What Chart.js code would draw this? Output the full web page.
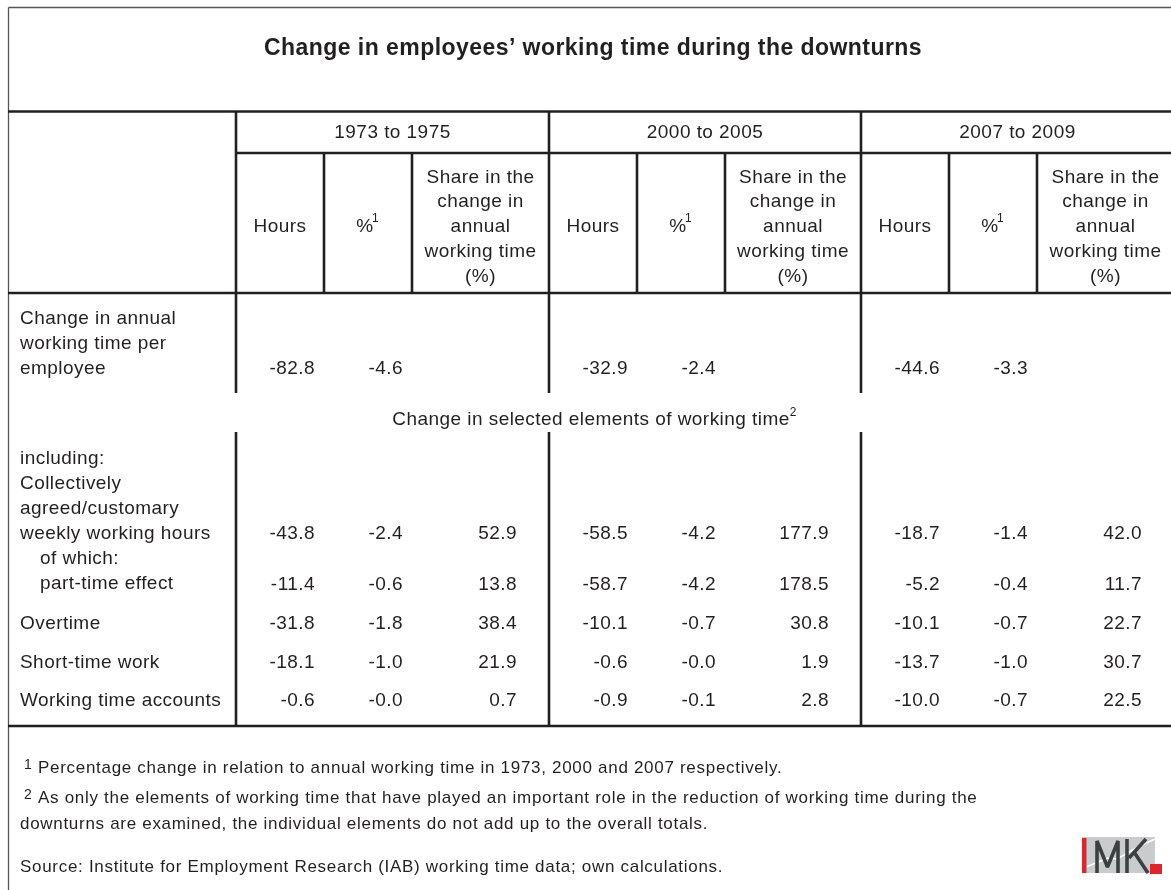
<!DOCTYPE html>
<html>
<head>
<meta charset="utf-8">
<script src="https://cdn.jsdelivr.net/npm/chart.js@4/dist/chart.umd.min.js"></script>
<style>
  body { margin: 0; background: #fff; }
  #Table { display: block; }
</style>
</head>
<body>
<canvas id="Table" width="1171" height="890"></canvas>
<script>
var title = 'Change in employees\u2019 working time during the downturns';
var periods = ['1973 to 1975', '2000 to 2005', '2007 to 2009'];
var subHeads = ['Hours', '%', 'Share in the\nchange in\nannual\nworking time\n(%)'];
var rowLabels = [
  ['Change in annual', 'working time per', 'employee'],
  ['including:', 'Collectively', 'agreed/customary', 'weekly working hours'],
  ['  of which:', '  part-time effect'],
  ['Overtime'],
  ['Short-time work'],
  ['Working time accounts']
];
var sectionLabel = 'Change in selected elements of working time';
var hours7375 = [-82.8, -43.8, -11.4, -31.8, -18.1, -0.6];
var pct7375 = [-4.6, -2.4, -0.6, -1.8, -1.0, -0.0];
var share7375 = [null, 52.9, 13.8, 38.4, 21.9, 0.7];
var hours0005 = [-32.9, -58.5, -58.7, -10.1, -0.6, -0.9];
var pct0005 = [-2.4, -4.2, -4.2, -0.7, -0.0, -0.1];
var share0005 = [null, 177.9, 178.5, 30.8, 1.9, 2.8];
var hours0709 = [-44.6, -18.7, -5.2, -10.1, -13.7, -10.0];
var pct0709 = [-3.3, -1.4, -0.4, -0.7, -1.0, -0.7];
var share0709 = [null, 42.0, 11.7, 22.7, 30.7, 22.5];
var footnotes = [
  ['1', 'Percentage change in relation to annual working time in 1973, 2000 and 2007 respectively.'],
  ['2', 'As only the elements of working time that have played an important role in the reduction of working time during the'],
  ['', 'downturns are examined, the individual elements do not add up to the overall totals.']
];
var source = 'Source: Institute for Employment Research (IAB) working time data; own calculations.';

var columns = [
  [hours7375, pct7375, share7375],
  [hours0005, pct0005, share0005],
  [hours0709, pct0709, share0709]
];

function fmt(v) {
  var neg = v < 0 || Object.is(v, -0);
  return (neg ? '-' : '') + Math.abs(v).toFixed(1);
}

window.addEventListener('load', function () {
  var FONT = '"Liberation Sans", Arial, sans-serif';
  var INK = '#231f20';
  var BODY = '19px ' + FONT;
  var colX = [236, 324, 412, 549, 637, 725, 861, 949, 1037, 1174];
  var rowY = [367, 532, 583, 622, 661, 699];
  var labelTop = [317, 457, 557, 622, 661, 699];

  var tablePlugin = {
    id: 'tablePlugin',
    afterDraw: function (chart) {
      var ctx = chart.ctx;
      var sx = chart.scales.x, sy = chart.scales.y;
      function X(v) { return sx.getPixelForValue(v); }
      function Y(v) { return sy.getPixelForValue(v); }
      function line(x1, y1, x2, y2, w, c) {
        ctx.beginPath();
        ctx.lineWidth = w;
        ctx.strokeStyle = c || INK;
        ctx.moveTo(X(x1), Y(y1));
        ctx.lineTo(X(x2), Y(y2));
        ctx.stroke();
      }
      function text(s, x, y, align, font, spacing) {
        ctx.font = font || BODY;
        ctx.letterSpacing = (spacing === undefined ? 0.45 : spacing) + 'px';
        ctx.textAlign = align || 'left';
        ctx.textBaseline = 'middle';
        ctx.fillStyle = INK;
        ctx.fillText(s, X(x), Y(y + 1.5));
      }
      function width(s, font, spacing) {
        ctx.font = font || BODY;
        ctx.letterSpacing = (spacing === undefined ? 0.45 : spacing) + 'px';
        return ctx.measureText(s).width;
      }
      function sup(s, x, y, size) {
        text(s, x, y, 'left', (size || 12) + 'px ' + FONT, 0);
      }

      ctx.save();
      ctx.fillStyle = '#fff';
      ctx.fillRect(0, 0, chart.width, chart.height);

      // outer frame
      line(8.5, 7.5, 1200, 7.5, 1.3, '#555');
      line(8.5, 7.5, 8.5, 900, 1.3, '#555');

      text(title, 593, 47, 'center', 'bold 23px ' + FONT, 0.45);

      // grid
      var T = 2.6;
      line(8, 111.5, 1200, 111.5, T);
      line(236, 153, 1200, 153, T);
      line(8, 293, 1200, 293, T);
      line(8, 726, 1200, 726, T);
      [236, 549, 861].forEach(function (x) {
        line(x, 111, x, 393, T);
        line(x, 432, x, 727, T);
      });
      [324, 412, 637, 725, 949, 1037].forEach(function (x) {
        line(x, 153, x, 293, T);
      });

      // header
      periods.forEach(function (p, i) {
        var l = colX[i * 3], r = colX[i * 3 + 3];
        text(p, (l + r) / 2, 131, 'center');
        for (var k = 0; k < 3; k++) {
          var cl = colX[i * 3 + k], cr = colX[i * 3 + k + 1];
          var cx = (cl + cr) / 2;
          var parts = subHeads[k].split('\n');
          if (parts.length === 1) {
            if (k === 1) {
              text(parts[0], cx - 3, 225, 'center');
              sup('1', cx + 4, 217);
            } else {
              text(parts[0], cx, 225, 'center');
            }
          } else {
            parts.forEach(function (s, j) {
              text(s, cx, 176 + j * 24.7, 'center');
            });
          }
        }
      });

      // row labels
      rowLabels.forEach(function (lines, r) {
        lines.forEach(function (s, j) {
          var indent = s.indexOf('  ') === 0 ? 20 : 0;
          text(s.trim(), 20 + indent, labelTop[r] + j * 25);
        });
      });

      // section label
      text(sectionLabel, 591, 418, 'center');
      var sw = width(sectionLabel);
      sup('2', 591 + sw / 2, 411);

      // values
      columns.forEach(function (grp, i) {
        grp.forEach(function (vals, k) {
          var right = colX[i * 3 + k + 1] - (k === 2 ? 32 : 9);
          vals.forEach(function (v, r) {
            if (v === null) return;
            text(fmt(v), right, rowY[r], 'right');
          });
        });
      });

      // footnotes
      var FN = '17px ' + FONT;
      var fy = [767, 797, 823];
      footnotes.forEach(function (f, i) {
        if (f[0]) sup(f[0], 24, fy[i] - 3, 14);
        text(f[1], f[0] ? 38 : 20, fy[i], 'left', FN, 0.7);
      });
      text(source, 20, 866, 'left', FN, 0.7);

      // logo
      ctx.letterSpacing = '0px';
      ctx.fillStyle = '#c9cccd';
      ctx.fillRect(X(1082), Y(837), 73, 36);
      ctx.beginPath();
      ctx.strokeStyle = '#fff';
      ctx.lineWidth = 1.5;
      ctx.moveTo(X(1086), Y(867));
      ctx.lineTo(X(1108), Y(858));
      ctx.lineTo(X(1117), Y(859));
      ctx.lineTo(X(1140), Y(846));
      ctx.lineTo(X(1155), Y(839));
      ctx.stroke();
      ctx.fillStyle = '#e3232b';
      ctx.fillRect(X(1082), Y(838), 4.5, 35);
      ctx.fillRect(X(1150), Y(864), 12, 10);
      ctx.strokeStyle = '#3d4042';
      ctx.lineWidth = 3.6;
      ctx.lineJoin = 'bevel';
      ctx.lineCap = 'butt';
      ctx.beginPath();
      ctx.moveTo(X(1097), Y(873));
      ctx.lineTo(X(1097), Y(841));
      ctx.lineTo(X(1107.5), Y(867));
      ctx.lineTo(X(1118), Y(841));
      ctx.lineTo(X(1118), Y(873));
      ctx.moveTo(X(1127), Y(873));
      ctx.lineTo(X(1127), Y(839));
      ctx.moveTo(X(1146), Y(839));
      ctx.lineTo(X(1129), Y(858));
      ctx.moveTo(X(1134), Y(852));
      ctx.lineTo(X(1148), Y(873));
      ctx.stroke();
      ctx.restore();
    }
  };

  new Chart(document.getElementById('Table'), {
    type: 'scatter',
    data: { datasets: [{ data: [], pointRadius: 0 }] },
    options: {
      responsive: false,
      animation: false,
      layout: { padding: 0 },
      plugins: { legend: { display: false }, tooltip: { enabled: false } },
      scales: {
        x: { type: 'linear', min: 0, max: 1171, display: false },
        y: { type: 'linear', min: 0, max: 890, reverse: true, display: false }
      }
    },
    plugins: [tablePlugin]
  });
});
</script>
</body>
</html>
